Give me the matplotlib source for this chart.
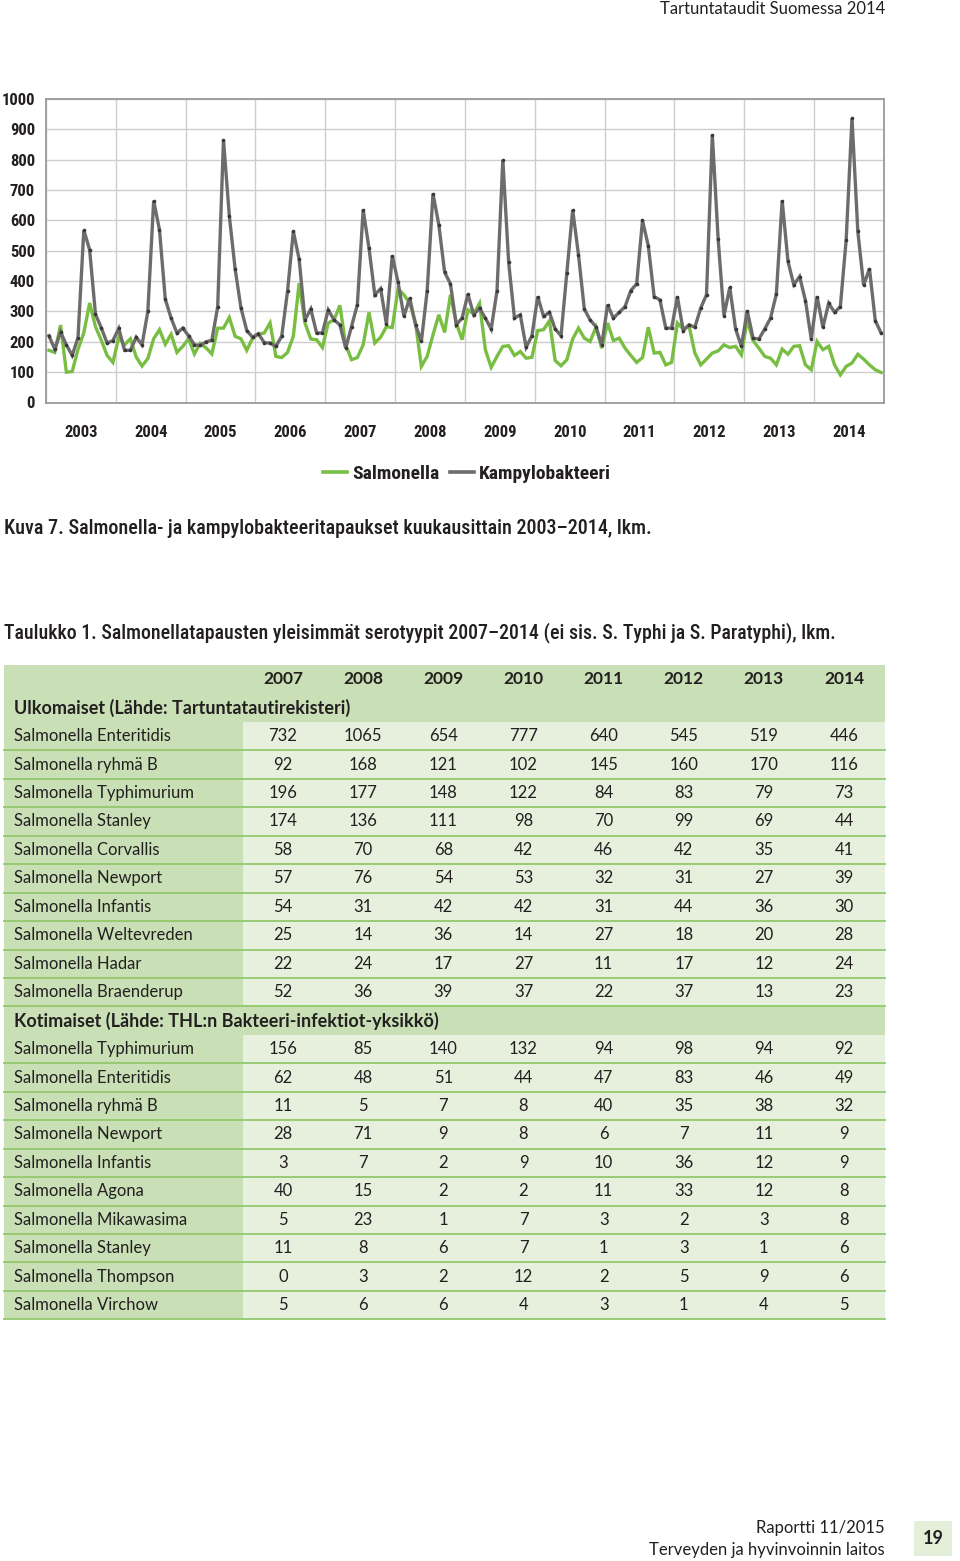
import numpy as np
import matplotlib
matplotlib.use('Agg')
import matplotlib.pyplot as plt
from matplotlib.patches import Rectangle
from matplotlib.lines import Line2D
from matplotlib import font_manager as fm

# ---------------- data ----------------
years = [str(y) for y in range(2003, 2015)]

salmonella = [
    172, 165, 255, 100, 102, 175, 230, 328, 250, 205, 155, 132,   # 2003
    215, 190, 210, 150, 120, 145, 210, 240, 192, 225, 165, 185,   # 2004
    210, 160, 195, 180, 160, 245, 245, 280, 218, 210, 172, 212,   # 2005
    225, 229, 262, 152, 148, 165, 218, 393, 262, 209, 207, 181,   # 2006
    262, 272, 320, 190, 141, 148, 190, 297, 196, 215, 250, 247,   # 2007
    374, 355, 327, 262, 119, 152, 223, 289, 231, 355, 262, 207,   # 2008
    305, 292, 327, 174, 116, 152, 185, 187, 155, 168, 146, 149,   # 2009
    237, 240, 269, 138, 121, 141, 209, 245, 212, 201, 248, 179,   # 2010
    262, 204, 212, 179, 155, 132, 148, 248, 163, 165, 124, 132,   # 2011
    262, 242, 253, 163, 124, 143, 163, 170, 190, 181, 185, 157,   # 2012
    272, 204, 179, 152, 146, 124, 176, 159, 185, 187, 124, 108,   # 2013
    201, 174, 185, 124, 91, 119, 130, 159, 143, 124, 108, 99,     # 2014
]

kampylobakteeri = [
    220, 176, 232, 190, 155, 214, 568, 503, 291, 246, 196, 204,   # 2003
    244, 172, 172, 215, 190, 300, 665, 569, 340, 278, 229, 245,   # 2004
    220, 190, 188, 200, 205, 315, 865, 615, 440, 312, 237, 215,   # 2005
    227, 197, 196, 185, 218, 366, 564, 472, 272, 308, 229, 229,   # 2006
    305, 272, 256, 179, 250, 322, 635, 509, 355, 375, 258, 484,   # 2007
    396, 284, 344, 256, 201, 368, 688, 586, 429, 391, 256, 278,   # 2008
    357, 289, 311, 278, 242, 368, 800, 462, 278, 289, 182, 220,   # 2009
    349, 284, 297, 242, 220, 426, 635, 487, 308, 272, 250, 190,   # 2010
    322, 278, 297, 316, 369, 391, 600, 516, 349, 338, 245, 245,   # 2011
    348, 237, 256, 248, 311, 355, 882, 538, 286, 379, 242, 185,   # 2012
    303, 212, 209, 242, 278, 357, 665, 465, 388, 415, 336, 209,   # 2013
    349, 248, 327, 297, 316, 536, 937, 564, 386, 441, 270, 229,   # 2014
]

series_names = ['Salmonella', 'Kampylobakteeri']

table_years = ['2007', '2008', '2009', '2010', '2011', '2012', '2013', '2014']

ulk_title = 'Ulkomaiset (Lähde: Tartuntatautirekisteri)'
ulk_labels = ['Salmonella Enteritidis', 'Salmonella ryhmä B', 'Salmonella Typhimurium',
              'Salmonella Stanley', 'Salmonella Corvallis', 'Salmonella Newport',
              'Salmonella Infantis', 'Salmonella Weltevreden', 'Salmonella Hadar',
              'Salmonella Braenderup']
ulk_values = [
    [732, 1065, 654, 777, 640, 545, 519, 446],
    [92, 168, 121, 102, 145, 160, 170, 116],
    [196, 177, 148, 122, 84, 83, 79, 73],
    [174, 136, 111, 98, 70, 99, 69, 44],
    [58, 70, 68, 42, 46, 42, 35, 41],
    [57, 76, 54, 53, 32, 31, 27, 39],
    [54, 31, 42, 42, 31, 44, 36, 30],
    [25, 14, 36, 14, 27, 18, 20, 28],
    [22, 24, 17, 27, 11, 17, 12, 24],
    [52, 36, 39, 37, 22, 37, 13, 23],
]

kot_title = 'Kotimaiset (Lähde: THL:n Bakteeri-infektiot-yksikkö)'
kot_labels = ['Salmonella Typhimurium', 'Salmonella Enteritidis', 'Salmonella ryhmä B',
              'Salmonella Newport', 'Salmonella Infantis', 'Salmonella Agona',
              'Salmonella Mikawasima', 'Salmonella Stanley', 'Salmonella Thompson',
              'Salmonella Virchow']
kot_values = [
    [156, 85, 140, 132, 94, 98, 94, 92],
    [62, 48, 51, 44, 47, 83, 46, 49],
    [11, 5, 7, 8, 40, 35, 38, 32],
    [28, 71, 9, 8, 6, 7, 11, 9],
    [3, 7, 2, 9, 10, 36, 12, 9],
    [40, 15, 2, 2, 11, 33, 12, 8],
    [5, 23, 1, 7, 3, 2, 3, 8],
    [11, 8, 6, 7, 1, 3, 1, 6],
    [0, 3, 2, 12, 2, 5, 9, 6],
    [5, 6, 6, 4, 3, 1, 4, 5],
]

page_header = 'Tartuntataudit Suomessa 2014'
caption_fig = 'Kuva 7. Salmonella- ja kampylobakteeritapaukset kuukausittain 2003–2014, lkm.'
caption_tab = 'Taulukko 1. Salmonellatapausten yleisimmät serotyypit 2007–2014 (ei sis. S. Typhi ja S. Paratyphi), lkm.'
footer1 = 'Raportti 11/2015'
footer2 = 'Terveyden ja hyvinvoinnin laitos'
page_no = '19'

# ---------------- style ----------------
installed = {f.name for f in fm.fontManager.ttflist}
cond_name = None
for cand in ['Roboto Condensed', 'Liberation Sans Narrow', 'Open Sans Condensed',
             'DejaVu Sans Condensed', 'Noto Sans Condensed']:
    if cand in installed:
        cond_name = cand
        break
if cond_name is None:
    COND = ['Lato', 'DejaVu Sans']
    cs = 0.86   # size factor for a non-condensed substitute
else:
    COND = [cond_name, 'DejaVu Sans']
    cs = 1.0
BODY = ['Lato', 'DejaVu Sans']
GREEN = '#78be43'
GREY = '#6e6b6c'
DARK_CELL = '#c9e0b6'
LIGHT_CELL = '#e6f0dc'
RULE = '#92c86c'
TEXT = '#231f20'

W, H = 960, 1561
fig = plt.figure(figsize=(W / 100, H / 100), dpi=100)


def fx(x):
    return x / W


def fy(y):
    return 1 - y / H


# ---------------- line chart ----------------
L, R, T, B = 46, 884, 99, 402.5
ax = fig.add_axes([fx(L), fy(B), (R - L) / W, (B - T) / H])
n = len(salmonella)
months = np.arange(n) + 0.5
ax.plot(months, salmonella, color=GREEN, lw=2.4, solid_joinstyle='miter', zorder=3)
ax.plot(months, kampylobakteeri, color=GREY, lw=2.4, marker='o', ms=1.6,
        mfc='#3a3839', mec='#3a3839', solid_joinstyle='miter', zorder=4)
ax.set_xlim(0, n)
ax.set_ylim(0, 1000)
ax.set_xticks(np.arange(0, n + 1, 12))
ax.set_xticklabels([])
ax.set_xticks(np.arange(6, n, 12), minor=True)
ax.set_xticklabels(years, minor=True)
ax.set_yticks(range(0, 1001, 100))
ax.tick_params(which='both', length=0)
ax.tick_params(axis='x', which='minor', pad=16.5)
ax.tick_params(axis='y', pad=8)
for lab in ax.get_xticklabels(minor=True) + ax.get_yticklabels():
    lab.set_family(COND)
    lab.set_fontweight('bold')
    lab.set_fontsize(12 * cs)
    lab.set_color(TEXT)
ax.grid(True, which='major', color='#cdcdcd', lw=1)
ax.set_axisbelow(True)
for s in ax.spines.values():
    s.set_color('#9a9a9a')
    s.set_lw(1.3)

handles = [Line2D([], [], color=GREEN, lw=2.6), Line2D([], [], color=GREY, lw=2.6)]
leg = fig.legend(handles, series_names, loc='center', bbox_to_anchor=(fx(467), fy(474)),
                 ncol=2, frameon=False, handlelength=1.25, handletextpad=0.25,
                 columnspacing=0.55, prop={'family': COND, 'weight': 'bold', 'size': 14 * cs})
for t in leg.get_texts():
    t.set_color(TEXT)

# ---------------- page / table overlay ----------------
tax = fig.add_axes([0, 0, 1, 1], zorder=-1)
tax.set_xlim(0, W)
tax.set_ylim(H, 0)
tax.axis('off')

tax.text(885, 9, page_header, ha='right', va='center', family=BODY, fontsize=12, color=TEXT)
tax.text(4, 528, caption_fig, ha='left', va='center', family=COND, fontsize=14.5 * cs,
         fontweight='medium', color=TEXT)
tax.text(4, 633, caption_tab, ha='left', va='center', family=COND, fontsize=14.3 * cs,
         fontweight='medium', color=TEXT)

tab_left, tab_right, label_w = 4, 885, 239
row_h = 28.45
top = 665
col_x0 = 283
col_dx = 80.15

rows = [('header', None, None), ('section', ulk_title, None)]
rows += [('data', l, v) for l, v in zip(ulk_labels, ulk_values)]
rows += [('section', kot_title, None)]
rows += [('data', l, v) for l, v in zip(kot_labels, kot_values)]

for r, (kind, label, vals) in enumerate(rows):
    y0 = top + r * row_h
    yc = y0 + row_h / 2
    if kind in ('header', 'section'):
        tax.add_patch(Rectangle((tab_left, y0), tab_right - tab_left, row_h,
                                facecolor=DARK_CELL, edgecolor='none'))
        if kind == 'header':
            for j, yr in enumerate(table_years):
                tax.text(col_x0 + j * col_dx, yc, yr, ha='center', va='center',
                         family=BODY, fontweight='bold', fontsize=12.5, color=TEXT)
        else:
            tax.text(14, yc, label, ha='left', va='center', family=BODY,
                     fontweight='bold', fontsize=13, color=TEXT)
    else:
        tax.add_patch(Rectangle((tab_left, y0), label_w, row_h,
                                facecolor=DARK_CELL, edgecolor='none'))
        tax.add_patch(Rectangle((tab_left + label_w, y0), tab_right - tab_left - label_w, row_h,
                                facecolor=LIGHT_CELL, edgecolor='none'))
        tax.plot([tab_left, tab_right], [y0 + row_h, y0 + row_h], color=RULE, lw=1.3)
        tax.text(14, yc, label, ha='left', va='center', family=BODY, fontsize=12, color=TEXT)
        for j, v in enumerate(vals):
            tax.text(col_x0 + j * col_dx, yc, str(v), ha='center', va='center',
                     family=BODY, fontsize=12, color=TEXT)

tax.text(885, 1528, footer1, ha='right', va='center', family=BODY, fontsize=12, color=TEXT)
tax.text(885, 1550, footer2, ha='right', va='center', family=BODY, fontsize=12, color=TEXT)
tax.add_patch(Rectangle((914, 1521), 38, 35, facecolor='#e3efd8', edgecolor='none'))
tax.text(933, 1539, page_no, ha='center', va='center', family=BODY, fontweight='bold',
         fontsize=13, color=TEXT)

fig.savefig('out.png', dpi=100, facecolor='white')
